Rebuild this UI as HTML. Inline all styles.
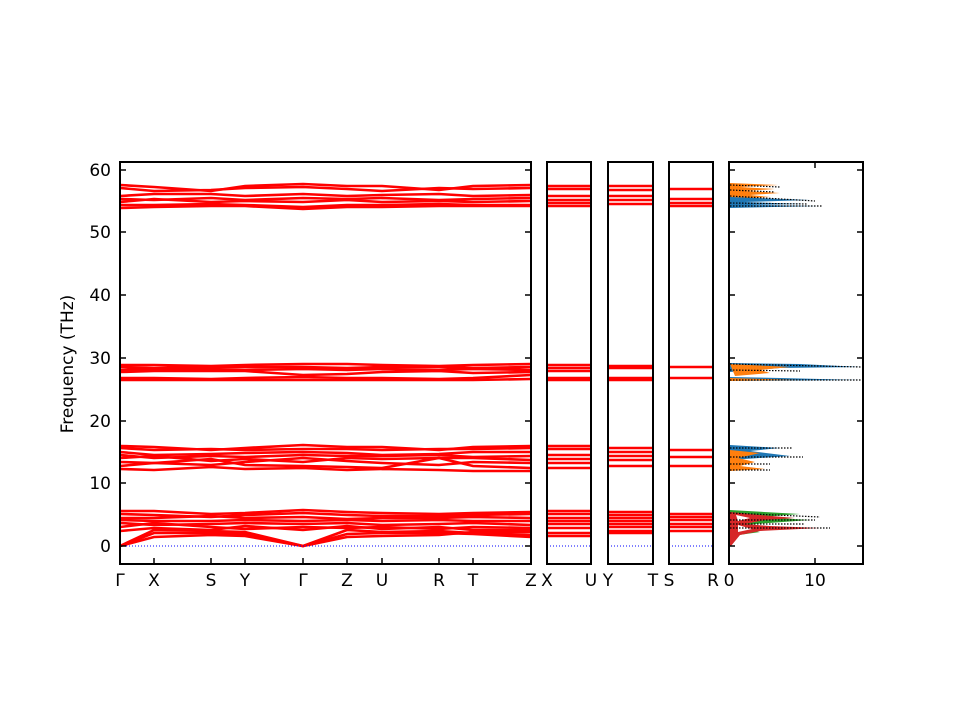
<!DOCTYPE html>
<html><head><meta charset="utf-8"><style>body{margin:0;background:#fff}svg{display:block}text{font-family:"DejaVu Sans","Liberation Sans",sans-serif;font-size:17px;fill:#000}</style></head><body>
<svg width="960" height="720" viewBox="0 0 960 720" xmlns="http://www.w3.org/2000/svg">
<defs>
<g id="hi" fill="none" stroke="#f00" stroke-width="2.6">
<path d="M120,185 L154,187 L211,191 L245,186 L303,184 L347,186 L382,186 L439,190 L473,186 L531,185"/>
<path d="M120,188 L154,191 L211,190 L245,188 L303,187 L347,189 L382,191 L439,188 L473,189 L531,188"/>
<path d="M120,196 L154,194 L211,194 L245,196 L303,194 L347,196 L382,195 L439,194 L473,196 L531,195"/>
<path d="M120,199 L154,200 L211,198 L245,200 L303,198 L347,199 L382,198 L439,200 L473,199 L531,198"/>
<path d="M120,202 L154,199 L211,202 L245,201 L303,202 L347,200 L382,202 L439,201 L473,202 L531,201"/>
<path d="M120,205 L154,205 L211,204 L245,205 L303,207 L347,205 L382,205 L439,204 L473,205 L531,205"/>
<path d="M120,208 L154,207 L211,206 L245,206 L303,209 L347,207 L382,207 L439,206 L473,206 L531,206"/>
<path d="M120,365 L154,365 L211,366 L245,365 L303,364 L347,364 L382,365 L439,366 L473,365 L531,364"/>
<path d="M120,367 L154,368 L211,367 L245,367 L303,367 L347,368 L382,367 L439,367 L473,368 L531,367"/>
<path d="M120,370 L154,369 L211,369 L245,370 L303,369 L347,370 L382,369 L439,370 L473,369 L531,370"/>
<path d="M120,372 L154,371 L211,371 L245,371 L303,375 L347,374 L382,372 L439,371 L473,373 L531,372"/>
<path d="M120,378 L154,378 L211,379 L245,378 L303,377 L347,378 L382,378 L439,379 L473,378 L531,375"/>
<path d="M120,380 L154,380 L211,380 L245,380 L303,380 L347,380 L382,380 L439,380 L473,380 L531,379"/>
<path d="M120,446 L154,447 L211,450 L245,448 L303,445 L347,447 L382,447 L439,450 L473,447 L531,446"/>
<path d="M120,448 L154,450 L211,449 L245,450 L303,449 L347,449 L382,450 L439,449 L473,449 L531,448"/>
<path d="M120,452 L154,455 L211,454 L245,453 L303,452 L347,453 L382,455 L439,454 L473,452 L531,452"/>
<path d="M120,455 L154,458 L211,456 L245,457 L303,455 L347,456 L382,456 L439,455 L473,457 L531,456"/>
<path d="M120,458 L154,456 L211,461 L245,459 L303,462 L347,458 L382,459 L439,458 L473,458 L531,460"/>
<path d="M120,462 L154,463 L211,465 L245,462 L303,458 L347,461 L382,463 L439,465 L473,462 L531,463"/>
<path d="M120,466 L154,463 L211,459 L245,465 L303,466 L347,467 L382,468 L439,458 L473,466 L531,468"/>
<path d="M120,469 L154,470 L211,467 L245,469 L303,468 L347,470 L382,469 L439,470 L473,471 L531,471"/>
<path d="M120,511 L154,511 L211,514 L245,513 L303,510 L347,512 L382,513 L439,514 L473,513 L531,512"/>
<path d="M120,514 L154,515 L211,517 L245,515 L303,513 L347,515 L382,516 L439,516 L473,515 L531,514"/>
<path d="M120,518 L154,518 L211,516 L245,518 L303,517 L347,519 L382,518 L439,518 L473,517 L531,518"/>
<path d="M120,520 L154,521 L211,521 L245,520 L303,521 L347,520 L382,521 L439,520 L473,521 L531,521"/>
<path d="M120,523 L154,525 L211,524 L245,523 L303,524 L347,523 L382,525 L439,524 L473,523 L531,525"/>
<path d="M120,527 L154,523 L211,527 L245,529 L303,527 L347,528 L382,527 L439,529 L473,527 L531,528"/>
<path d="M120,531 L154,528 L211,530 L245,526 L303,530 L347,526 L382,529 L439,527 L473,530 L531,530"/>
<path d="M120,546 L154,530 L211,531 L245,532 L303,546 L347,530 L382,532 L439,531 L473,533 L531,535"/>
<path d="M120,546 L154,533 L211,533 L245,534 L303,546 L347,534 L382,533 L439,533 L473,534 L531,537"/>
<path d="M120,546 L154,537 L211,535 L245,536 L303,546 L347,537 L382,536 L439,535 L473,532 L531,532"/>
</g>
</defs>
<clipPath id="c1"><rect x="120" y="162" width="411" height="402"/></clipPath>
<g clip-path="url(#c1)"><use href="#hi"/></g>
<g fill="none" stroke="#f00" stroke-width="2.6">
<path d="M547,186H591M547,189H591M547,196H591M547,200H591M547,203H591M547,206H591M547,365H591M547,368H591M547,371H591M547,378H591M547,380H591M547,446H591M547,449H591M547,455H591M547,459H591M547,463H591M547,468H591M547,511H591M547,514H591M547,518H591M547,521H591M547,524H591M547,528H591M547,533H591M547,536H591"/>
<path d="M608,186H653M608,190H653M608,196H653M608,200H653M608,204H653M608,366H653M608,368H653M608,378H653M608,380H653M608,448H653M608,452H653M608,456H653M608,460H653M608,466H653M608,512H653M608,515H653M608,518H653M608,521H653M608,524H653M608,527H653M608,531H653M608,533H653"/>
<path d="M669,189H713M669,199H713M669,203H713M669,206H713M669,367H713M669,378H713M669,450H713M669,457H713M669,466H713M669,514H713M669,517H713M669,520H713M669,524H713M669,527H713M669,531H713"/>
</g>
<g stroke="#00f" stroke-width="1" stroke-dasharray="1,2"><path d="M120,546H531M547,546H591M608,546H653M669,546H713"/></g>
<!-- DOS -->
<g stroke="none">
<path fill="#ff7f0e" d="M730,183 L778,185 L740,187 L775,189 L745,191 L780,193 L750,195 L770,197 L730,199Z"/>
<path fill="#1f77b4" d="M730,197 L810,200 L745,202 L805,204 L750,205 L819,206 L730,208Z"/>
<path fill="#1f77b4" d="M730,363 L800,364 L860,367 L780,368 L745,371 L730,372Z"/>
<path fill="#ff7f0e" d="M730,364 L790,367 L760,370 L770,373 L735,376Z"/>
<path fill="#1f77b4" d="M730,377 L780,378 L860,380 L730,381Z"/>
<path fill="#ff7f0e" d="M730,378 L800,380 L730,381Z"/>
<path fill="#1f77b4" d="M730,445 L780,448 L750,451 L790,456 L745,459 L730,460Z"/>
<path fill="#ff7f0e" d="M730,450 L760,453 L738,458 L755,462 L740,466 L765,469 L730,471Z"/>
<path fill="#2ca02c" d="M730,510 L800,514 L760,517 L810,520 L755,524 L735,528 L760,532 L732,536 L730,536Z"/>
<path fill="#d62728" d="M730,512 L760,515 L795,518 L765,520 L745,524 L770,526 L820,528 L760,531 L740,535 L731,546 L730,546Z"/>
<path fill="#fff" d="M736,515 L750,518 L738,521Z M738,525 L752,529 L738,532Z"/>
</g>
<g fill="none" stroke="#000" stroke-width="1.2" stroke-dasharray="1.5,1.5">
<path d="M730,185 L780,187 M730,190 L775,192 M730,196 L815,201 M730,203 L808,204 M730,206 L822,206 M730,364 L862,367 M730,370 L800,371 M730,380 L862,380 M730,448 L793,448 M730,457 L803,457 M730,464 L770,464 M730,470 L770,470 M730,513 L820,517 M730,520 L815,520 M730,524 L805,524 M730,528 L830,528"/>
</g>
<g id="frames" fill="none" stroke="#000" stroke-width="2">
<rect x="120" y="162" width="411" height="402"/>
<rect x="547" y="162" width="44" height="402"/>
<rect x="608" y="162" width="45" height="402"/>
<rect x="669" y="162" width="44" height="402"/>
<rect x="729" y="162" width="134" height="402"/>
</g>
<g stroke="#000" stroke-width="1.5" fill="none">
<path d="M120,546h6M120,483h6M120,421h6M120,358h6M120,295h6M120,232h6M120,170h6"/>
<path d="M531,546h-6M531,483h-6M531,421h-6M531,358h-6M531,295h-6M531,232h-6M531,170h-6"/>
<path d="M729,546h6M729,483h6M729,421h6M729,358h6M729,295h6M729,232h6M729,170h6"/>
<path d="M863,546h-6M863,483h-6M863,421h-6M863,358h-6M863,295h-6M863,232h-6M863,170h-6"/>
<path d="M154,564v-6M211,564v-6M245,564v-6M303,564v-6M347,564v-6M382,564v-6M439,564v-6M473,564v-6"/>
<path d="M815,564v-6M815,162v6"/>
</g>
<g text-anchor="end">
<text x="111" y="552">0</text><text x="111" y="489">10</text><text x="111" y="427">20</text><text x="111" y="364">30</text><text x="111" y="301">40</text><text x="111" y="238">50</text><text x="111" y="176">60</text>
</g>
<g text-anchor="middle">
<text x="120" y="586">Γ</text><text x="154" y="586">X</text><text x="211" y="586">S</text><text x="245" y="586">Y</text><text x="303" y="586">Γ</text><text x="347" y="586">Z</text><text x="382" y="586">U</text><text x="439" y="586">R</text><text x="473" y="586">T</text><text x="531" y="586">Z</text>
<text x="547" y="586">X</text><text x="591" y="586">U</text><text x="608" y="586">Y</text><text x="653" y="586">T</text><text x="669" y="586">S</text><text x="713" y="586">R</text>
<text x="729" y="586">0</text><text x="815" y="586">10</text>
<text transform="translate(73,364) rotate(-90)">Frequency (THz)</text>
</g>
</svg>
</body></html>
